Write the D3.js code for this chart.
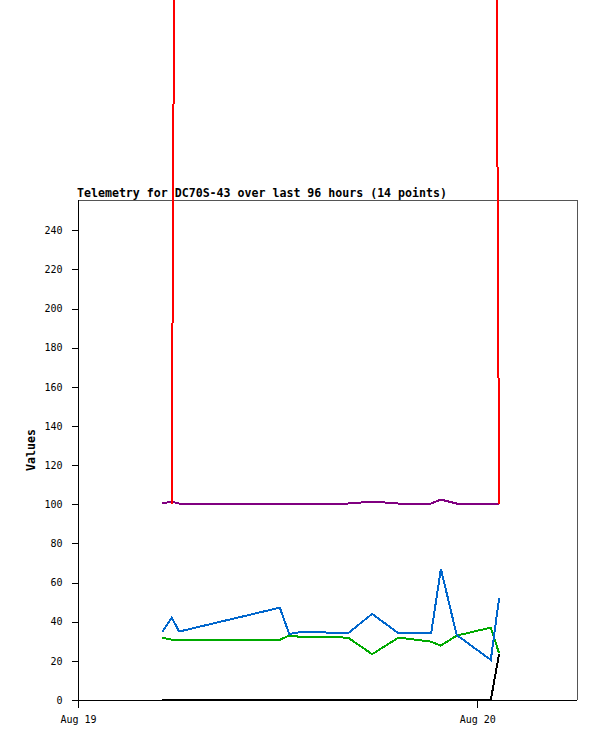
<!DOCTYPE html>
<html>
<head>
<meta charset="utf-8">
<script src="https://cdn.jsdelivr.net/npm/d3@7"></script>
<style>
  html, body { margin: 0; padding: 0; background: #fff; }
  svg { display: block; }
</style>
</head>
<body>
<svg id="chart" width="597" height="741"></svg>
<script>
// ---- data ----
const times = [
  "2024-08-19T05:04", "2024-08-19T05:38", "2024-08-19T06:05", "2024-08-19T12:08",
  "2024-08-19T12:42", "2024-08-19T13:28", "2024-08-19T16:14", "2024-08-19T17:41",
  "2024-08-19T19:16", "2024-08-19T21:14", "2024-08-19T21:49", "2024-08-19T22:46",
  "2024-08-20T00:49", "2024-08-20T01:19"
];
const seriesRed    = [null, 100.4, 940, 980, 1000, 1000, 1000, 1000, 1000, 1000, 1000, 1000, 1000, 100.4];
const seriesPurple = [100.4, 101.4, 100.4, 100.4, 100.4, 100.4, 100.4, 101.4, 100.4, 100.4, 102.4, 100.4, 100.4, 100.4];
const seriesBlue   = [34.9, 42.1, 35.0, 47.2, 33.7, 34.9, 34.1, 44.0, 34.1, 34.1, 67.0, 33.2, 20.5, 52.0];
const seriesGreen  = [31.9, 30.8, 30.8, 30.8, 32.9, 32.2, 31.9, 23.4, 31.9, 29.8, 27.8, 32.9, 37.0, 23.9];
const seriesBlack  = [0, 0, 0, 0, 0, 0, 0, 0, 0, 0, 0, 0, 0, 23.5];
const yTicks = [0, 20, 40, 60, 80, 100, 120, 140, 160, 180, 200, 220, 240];
const xTickDates = ["2024-08-19T00:00", "2024-08-20T00:00"];
const xTickLabels = ["Aug 19", "Aug 20"];
const xDomain = ["2024-08-19T00:00", "2024-08-20T06:00"];
const yMax = 255.5;
const titleText = "Telemetry for DC70S-43 over last 96 hours (14 points)";
const yLabel = "Values";

// ---- layout ----
const parse = d3.isoParse;
const pL = 78, pR = 577, pT = 200, pB = 700;
const svg = d3.select("#chart");
const x = d3.scaleTime().domain(xDomain.map(parse)).range([pL, pR]);
const y = d3.scaleLinear().domain([0, yMax]).range([pB, pT]);

const mono = "'DejaVu Sans Mono', 'Liberation Mono', monospace";

// frame (top & right)
svg.append("path")
  .attr("d", `M${pL},${pT + 0.5}H${pR + 0.5}V${pB}`)
  .attr("fill", "none").attr("stroke", "#555").attr("stroke-width", 1)
  .attr("shape-rendering", "crispEdges");

// series lines
const t = times.map(parse);
const line = d3.line()
  .defined(d => d.v !== null)
  .x(d => x(d.t)).y(d => y(d.v));
const series = [
  { vals: seriesGreen,  color: "#00aa00" },
  { vals: seriesBlue,   color: "#0066cc" },
  { vals: seriesPurple, color: "#800080" },
  { vals: seriesRed,    color: "#ff0000" },
  { vals: seriesBlack,  color: "#000000" }
];
series.forEach(s => {
  svg.append("path")
    .datum(s.vals.map((v, i) => ({ t: t[i], v })))
    .attr("d", line)
    .attr("fill", "none")
    .attr("stroke", s.color)
    .attr("stroke-width", 2)
    .attr("stroke-linejoin", "miter")
    .attr("shape-rendering", "crispEdges");
});

// y axis
const yAxis = d3.axisLeft(y).tickValues(yTicks).tickSize(7).tickPadding(9).tickFormat(d3.format("d"));
const gy = svg.append("g").attr("transform", `translate(${pL + 0.5},0)`).call(yAxis);
gy.select(".domain").attr("d", `M0,${pT}V${pB}`).attr("stroke", "#000");
gy.selectAll("line").attr("stroke", "#000");
gy.selectAll("text").attr("font-family", mono).attr("font-size", "10px").attr("fill", "#000");
gy.selectAll("path, line").attr("shape-rendering", "crispEdges");

// x axis
const xAxis = d3.axisBottom(x).tickValues(xTickDates.map(parse)).tickSize(7).tickPadding(8)
  .tickFormat((d, i) => xTickLabels[i]);
const gx = svg.append("g").attr("transform", `translate(0,${pB + 0.5})`).call(xAxis);
gx.select(".domain").attr("d", `M${pL},0H${pR}`).attr("stroke", "#000");
gx.selectAll("line").attr("stroke", "#000");
gx.selectAll("text").attr("font-family", mono).attr("font-size", "10px").attr("fill", "#000");
gx.selectAll("path, line").attr("shape-rendering", "crispEdges");

// title
svg.append("text")
  .attr("x", 77).attr("y", 197)
  .attr("font-family", mono).attr("font-weight", "bold").attr("font-size", "11.6px")
  .attr("fill", "#000")
  .text(titleText);

// y label
svg.append("text")
  .attr("transform", `translate(35,${(pT + pB) / 2}) rotate(-90)`)
  .attr("text-anchor", "middle")
  .attr("font-family", mono).attr("font-weight", "bold").attr("font-size", "11.6px")
  .attr("fill", "#000")
  .text(yLabel);
</script>
</body>
</html>
